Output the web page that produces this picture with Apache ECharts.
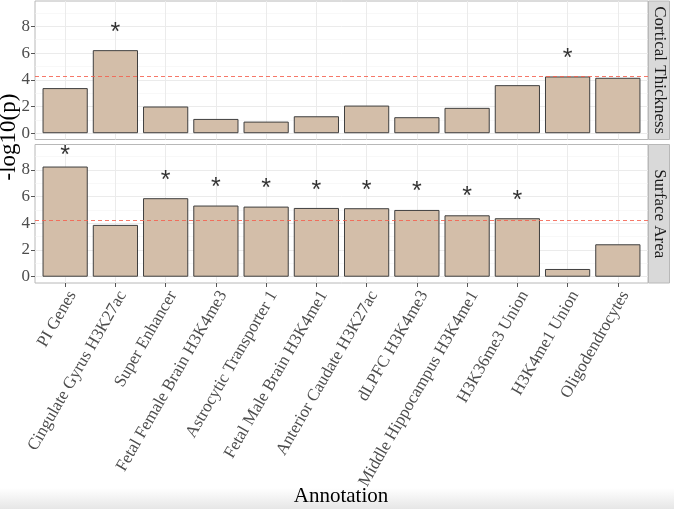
<!DOCTYPE html>
<html>
<head>
<meta charset="utf-8">
<script src="https://cdn.jsdelivr.net/npm/echarts@6/dist/echarts.min.js"></script>
<style>html,body{margin:0;padding:0;background:#fff;}#c{width:674px;height:509px;}</style>
</head>
<body>
<div id="c"></div>
<script>
const categories = ["PI Genes","Cingulate Gyrus H3K27ac","Super Enhancer","Fetal Female Brain H3K4me3","Astrocytic Transporter 1","Fetal Male Brain H3K4me1","Anterior Caudate H3K27ac","dLPFC H3K4me3","Middle Hippocampus H3K4me1","H3K36me3 Union","H3K4me1 Union","Oligodendrocytes"];
const corticalThickness = [3.38, 6.22, 2.0, 1.07, 0.87, 1.27, 2.07, 1.2, 1.9, 3.6, 4.25, 4.15];
const surfaceArea = [8.25, 3.88, 5.88, 5.33, 5.25, 5.15, 5.13, 5.0, 4.6, 4.38, 0.58, 2.43];
// asterisk positions (index, y) for significant annotations
const ctStars = [[1, 7.85], [10, 5.9]];
const saStars = [[0, 9.43], [2, 7.55], [3, 7.0], [4, 6.93], [5, 6.8], [6, 6.75], [7, 6.68], [8, 6.3], [9, 6.05]];
const threshold = 4.23;
const yTicks = [0, 2, 4, 6, 8];
const yMinor = [1, 3, 5, 7, 9];
const panels = ["Cortical Thickness", "Surface Area"];

const serif = "'Liberation Serif', 'DejaVu Serif', serif";
const xIdx = categories.map((_, i) => i);

function xAxisFor(gi, showLabels) {
  return {
    type: 'value', gridIndex: gi, min: -0.6, max: 11.6, position: 'bottom',
    axisLine: {show: false, onZero: false},
    splitLine: {show: false},
    axisTick: {show: showLabels, customValues: xIdx, length: 4, lineStyle: {color: '#555', width: 1}},
    axisLabel: {
      show: showLabels, customValues: xIdx, rotate: 60, margin: 5, verticalAlign: 'top',
      fontFamily: serif, fontSize: 17, color: '#4d4d4d',
      formatter: v => categories[Math.round(v)]
    }
  };
}
function yAxisFor(gi) {
  return {
    type: 'value', gridIndex: gi, min: -0.47, max: 9.9, position: 'left',
    axisLine: {show: false, onZero: false},
    splitLine: {show: false},
    axisTick: {show: true, customValues: yTicks, length: 4, lineStyle: {color: '#555', width: 1}},
    axisLabel: {customValues: yTicks, fontFamily: serif, fontSize: 17, color: '#4d4d4d', margin: 5}
  };
}
function gridSeries(gi) {
  const major = yTicks.map(v => ({yAxis: v, lineStyle: {color: '#ebebeb', width: 1, type: 'solid'}}));
  const minor = yMinor.map(v => ({yAxis: v, lineStyle: {color: '#f4f4f4', width: 0.6, type: 'solid'}}));
  const vert = xIdx.map(v => ({xAxis: v, lineStyle: {color: '#ebebeb', width: 1, type: 'solid'}}));
  return {
    type: 'line', xAxisIndex: gi, yAxisIndex: gi, data: [], z: 0, silent: true,
    markLine: {silent: true, symbol: 'none', label: {show: false}, z: 0, animation: false,
      data: minor.concat(major, vert)}
  };
}
function barSeries(gi, values) {
  return {
    type: 'bar', xAxisIndex: gi, yAxisIndex: gi, z: 2,
    data: values.map((v, i) => [i, v]),
    barWidth: '90%',
    itemStyle: {color: '#d3bea9', borderColor: '#3f3f3f', borderWidth: 1},
    emphasis: {disabled: true}
  };
}
function threshSeries(gi) {
  return {
    type: 'line', xAxisIndex: gi, yAxisIndex: gi, data: [], z: 5, silent: true,
    markLine: {silent: true, symbol: 'none', label: {show: false}, animation: false,
      data: [{yAxis: threshold, lineStyle: {color: '#f5604f', width: 1, type: [4, 3], opacity: 0.85}}]}
  };
}
function starSeries(gi, stars) {
  return {
    type: 'scatter', xAxisIndex: gi, yAxisIndex: gi, z: 6, silent: true,
    data: stars, symbolSize: 0,
    label: {show: true, position: 'inside', formatter: '*', offset: [0, 5],
      fontFamily: "'Liberation Sans', Arial, sans-serif", fontSize: 25, color: '#000'}
  };
}

const chart = echarts.init(document.getElementById('c'), null, {renderer: 'canvas'});
chart.setOption({
  animation: false,
  backgroundColor: '#fff',
  grid: [
    {left: 35, top: 1, width: 613, height: 138.5, show: true, borderColor: '#b8b8b8', borderWidth: 1, backgroundColor: '#fff'},
    {left: 35, top: 144.5, width: 613, height: 138.5, show: true, borderColor: '#b8b8b8', borderWidth: 1, backgroundColor: '#fff'}
  ],
  xAxis: [xAxisFor(0, false), xAxisFor(1, true)],
  yAxis: [yAxisFor(0), yAxisFor(1)],
  series: [
    gridSeries(0), gridSeries(1),
    barSeries(0, corticalThickness), barSeries(1, surfaceArea),
    threshSeries(0), threshSeries(1),
    starSeries(0, ctStars), starSeries(1, saStars)
  ],
  graphic: [
    {type: 'rect', shape: {x: 0, y: 488, width: 674, height: 21}, z: -10,
      style: {fill: new echarts.graphic.LinearGradient(0, 0, 0, 1, [{offset: 0, color: '#ffffff'}, {offset: 1, color: '#e6e6e6'}])}},
    {type: 'rect', shape: {x: 648.5, y: 1, width: 21, height: 138.5}, style: {fill: '#d9d9d9', stroke: '#b8b8b8', lineWidth: 1}},
    {type: 'rect', shape: {x: 648.5, y: 144.5, width: 21, height: 138.5}, style: {fill: '#d9d9d9', stroke: '#b8b8b8', lineWidth: 1}},
    {type: 'text', x: 659, y: 70.25, rotation: -Math.PI / 2,
      style: {text: panels[0], font: "17px " + serif, fill: '#1a1a1a', textAlign: 'center', textVerticalAlign: 'middle'}},
    {type: 'text', x: 659, y: 213.75, rotation: -Math.PI / 2,
      style: {text: panels[1], font: "17px " + serif, fill: '#1a1a1a', textAlign: 'center', textVerticalAlign: 'middle'}},
    {type: 'text', x: 9, y: 137, rotation: Math.PI / 2,
      style: {text: '-log10(p)', font: "23px " + serif, fill: '#000', textAlign: 'center', textVerticalAlign: 'middle'}},
    {type: 'text', x: 341, y: 496,
      style: {text: 'Annotation', font: "21px " + serif, fill: '#000', textAlign: 'center', textVerticalAlign: 'middle'}}
  ]
});
</script>
</body>
</html>
